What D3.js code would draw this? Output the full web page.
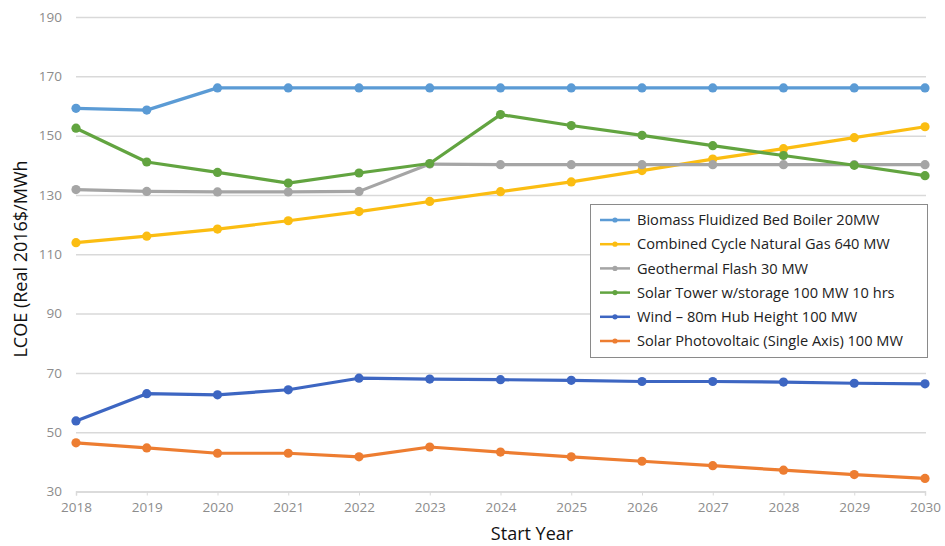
<!DOCTYPE html>
<html>
<head>
<meta charset="utf-8">
<script src="https://cdn.jsdelivr.net/npm/d3@7"></script>
<style>
  body { margin: 0; background: #fff; }
  svg { display: block; font-family: "Open Sans", sans-serif; }
</style>
</head>
<body>
<div id="chart"></div>
<script>
// Chart dimensions.
const w = 945;
const h = 546;

// Data
const years = [2018, 2019, 2020, 2021, 2022, 2023, 2024, 2025, 2026, 2027, 2028, 2029, 2030];
const yTicks = [30, 50, 70, 90, 110, 130, 150, 170, 190];
const seriesNames = [
  "Biomass Fluidized Bed Boiler 20MW",
  "Combined Cycle Natural Gas 640 MW",
  "Geothermal Flash 30 MW",
  "Solar Tower w/storage 100 MW 10 hrs",
  "Wind \u2013 80m Hub Height 100 MW",
  "Solar Photovoltaic (Single Axis) 100 MW"
];
const biomass = [159.2, 158.6, 166.1, 166.1, 166.1, 166.1, 166.1, 166.1, 166.1, 166.1, 166.1, 166.1, 166.1];
const naturalGas = [113.9, 116.1, 118.5, 121.3, 124.4, 127.8, 131.1, 134.4, 138.2, 142.1, 145.6, 149.3, 153.0];
const geothermal = [131.8, 131.2, 131.0, 131.0, 131.2, 140.4, 140.2, 140.2, 140.2, 140.2, 140.2, 140.2, 140.2];
const solarTower = [152.5, 141.1, 137.6, 134.0, 137.4, 140.6, 157.1, 153.4, 150.1, 146.6, 143.3, 140.0, 136.5];
const wind = [53.8, 63.0, 62.6, 64.3, 68.2, 67.9, 67.7, 67.5, 67.1, 67.1, 66.9, 66.5, 66.3];
const solarPV = [46.4, 44.7, 42.9, 42.9, 41.7, 45.0, 43.3, 41.7, 40.2, 38.7, 37.2, 35.7, 34.4];
const colors = ["#5b9bd5", "#fbbd12", "#a5a5a5", "#62a440", "#3d66c2", "#ed7d31"];

const allSeries = [biomass, naturalGas, geothermal, solarTower, wind, solarPV].map((values, i) => ({
  name: seriesNames[i],
  color: colors[i],
  values: values.map((v, j) => ({ year: years[j], value: v }))
}));

const x = d3.scaleLinear().domain([2018, 2030]).range([76, 925]);
const y = d3.scaleLinear().domain([30, 190]).range([491.5, 17]);

const svg = d3.select("#chart")
  .append("svg")
  .attr("width", w)
  .attr("height", h)
  .attr("viewBox", [0, 0, w, h]);

// gridlines + y labels
svg.append("g")
  .attr("transform", "translate(76,0)")
  .call(d3.axisLeft(y).tickValues(yTicks).tickSize(-850).tickPadding(14))
  .call(g => g.select(".domain").remove())
  .call(g => g.selectAll(".tick line").attr("stroke", "#d9d9d9").attr("stroke-width", 1.5))
  .call(g => g.selectAll(".tick text")
    .attr("fill", "#8c8c8c")
    .attr("font-size", 13.5)
    .attr("font-family", "Open Sans, sans-serif"));

// x axis
svg.append("g")
  .attr("transform", `translate(0,${y(30)})`)
  .call(d3.axisBottom(x).tickValues(years).tickFormat(d3.format("d")).tickSize(4).tickPadding(7))
  .call(g => g.select(".domain").attr("stroke", "#d9d9d9").attr("stroke-width", 1.5))
  .call(g => g.selectAll(".tick line").attr("stroke", "#d9d9d9"))
  .call(g => g.selectAll(".tick text")
    .attr("fill", "#8c8c8c")
    .attr("font-size", 13.5)
    .attr("font-family", "Open Sans, sans-serif"));

// axis titles
svg.append("text")
  .attr("transform", `translate(27,259) rotate(-90)`)
  .attr("text-anchor", "middle")
  .attr("font-size", 18)
  .attr("fill", "#111")
  .text("LCOE (Real 2016$/MWh");

svg.append("text")
  .attr("x", 532)
  .attr("y", 540)
  .attr("text-anchor", "middle")
  .attr("font-size", 18)
  .attr("fill", "#111")
  .text("Start Year");

// lines
const line = d3.line().x(d => x(d.year)).y(d => y(d.value));

const groups = svg.append("g")
  .selectAll("g")
  .data(allSeries)
  .join("g");

groups.append("path")
  .attr("d", d => line(d.values))
  .attr("fill", "none")
  .attr("stroke", d => d.color)
  .attr("stroke-width", 3.2)
  .attr("stroke-linejoin", "round");

groups.selectAll("circle")
  .data(d => d.values.map(v => ({ ...v, color: d.color })))
  .join("circle")
  .attr("cx", d => x(d.year))
  .attr("cy", d => y(d.value))
  .attr("r", 4.6)
  .attr("fill", d => d.color);

// legend
const legend = svg.append("g");
legend.append("rect")
  .attr("x", 590.5)
  .attr("y", 204.5)
  .attr("width", 337)
  .attr("height", 153)
  .attr("fill", "#fff")
  .attr("stroke", "#8a8a8a")
  .attr("stroke-width", 1);

const item = legend.selectAll("g.item")
  .data(allSeries)
  .join("g")
  .attr("class", "item")
  .attr("transform", (d, i) => `translate(0,${220 + i * 24.2})`);

item.append("line")
  .attr("x1", 600).attr("x2", 630)
  .attr("stroke", d => d.color)
  .attr("stroke-width", 2.5);
item.append("circle")
  .attr("cx", 615).attr("r", 2.6)
  .attr("fill", d => d.color);
item.append("text")
  .attr("x", 637)
  .attr("dy", "0.35em")
  .attr("font-size", 14.6)
  .attr("fill", "#222")
  .text(d => d.name);
</script>
</body>
</html>
